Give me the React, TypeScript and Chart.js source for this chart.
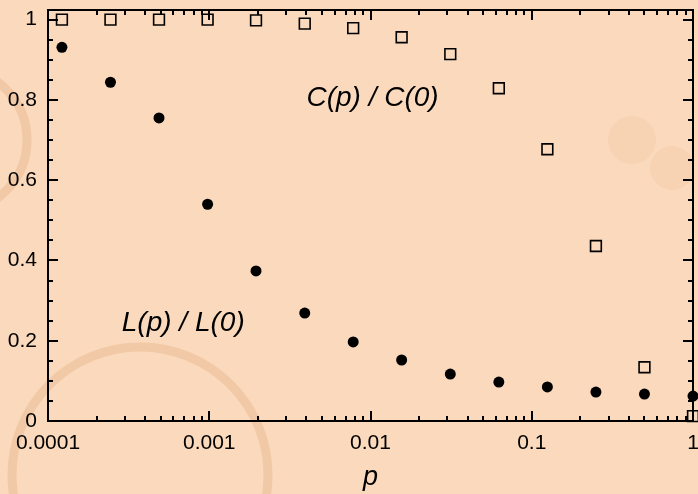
import { useEffect, useRef } from 'react';
import { Chart, registerables } from 'chart.js';

Chart.register(...registerables);

// Rewiring probability p (powers of two from 2^-13 to 1)
const pValues = [0.000122, 0.000244, 0.000488, 0.000977, 0.00195, 0.00391, 0.00781, 0.0156, 0.03125, 0.0625, 0.125, 0.25, 0.5, 1];
// Normalised clustering coefficient C(p)/C(0)
const clusteringRatio = [1.0, 1.0, 1.0, 1.0, 0.998, 0.99, 0.979, 0.956, 0.914, 0.829, 0.677, 0.436, 0.134, 0.012];
// Normalised characteristic path length L(p)/L(0)
const pathLengthRatio = [0.931, 0.844, 0.755, 0.54, 0.374, 0.269, 0.197, 0.152, 0.117, 0.097, 0.085, 0.072, 0.067, 0.062];

const xTickValues = [0.0001, 0.001, 0.01, 0.1, 1];
const xTickLabels = ['0.0001', '0.001', '0.01', '0.1', '1'];
const xMinorMultipliers = [2, 3, 4, 5, 6, 7, 8, 9];
const yTickValues = [0, 0.2, 0.4, 0.6, 0.8, 1];
const yTickLabels = ['0', '0.2', '0.4', '0.6', '0.8', '1'];
const yMinorStep = 0.05;

const annotations = [
  { text: 'C(p) / C(0)', p: 0.0103, v: 0.804 },
  { text: 'L(p) / L(0)', p: 0.00069, v: 0.244 },
];

const BG = 'rgb(250, 217, 188)';
const FONT = '"Liberation Sans", Arial, Helvetica, sans-serif';

const decorPlugin = {
  id: 'decor',
  beforeDraw(chart: any) {
    const { ctx, width, height } = chart;
    ctx.save();
    ctx.fillStyle = BG;
    ctx.fillRect(0, 0, width, height);
    // faint coffee stains
    ctx.strokeStyle = 'rgba(225, 165, 115, 0.3)';
    ctx.lineWidth = 9;
    ctx.beginPath();
    ctx.arc(-45, 140, 72, 0, Math.PI * 2);
    ctx.stroke();
    ctx.beginPath();
    ctx.arc(140, 475, 128, 0, Math.PI * 2);
    ctx.stroke();
    ctx.fillStyle = 'rgba(235, 175, 125, 0.14)';
    ctx.beginPath();
    ctx.arc(632, 140, 24, 0, Math.PI * 2);
    ctx.fill();
    ctx.beginPath();
    ctx.arc(672, 168, 22, 0, Math.PI * 2);
    ctx.fill();
    ctx.restore();
  },
  beforeDatasetsDraw(chart: any) {
    const { ctx, chartArea, scales } = chart;
    const { left, right, top, bottom } = chartArea;
    const x = scales.x;
    const y = scales.y;
    ctx.save();
    ctx.strokeStyle = '#000';
    ctx.lineWidth = 2;
    ctx.strokeRect(left, top, right - left, bottom - top);
    ctx.beginPath();
    // x ticks (bottom and top, inward)
    for (let d = 0; d < xTickValues.length; d++) {
      const base = xTickValues[d];
      const px = Math.round(x.getPixelForValue(base));
      ctx.moveTo(px, bottom); ctx.lineTo(px, bottom - 10);
      ctx.moveTo(px, top); ctx.lineTo(px, top + 10);
      if (d < xTickValues.length - 1) {
        for (const m of xMinorMultipliers) {
          const mx = Math.round(x.getPixelForValue(base * m));
          ctx.moveTo(mx, bottom); ctx.lineTo(mx, bottom - 5);
          ctx.moveTo(mx, top); ctx.lineTo(mx, top + 5);
        }
      }
    }
    // y ticks (left and right, inward)
    for (let i = 0; i <= 20; i++) {
      const v = i * yMinorStep;
      const py = Math.round(y.getPixelForValue(v));
      const len = i % 4 === 0 ? 10 : 5;
      ctx.moveTo(left, py); ctx.lineTo(left + len, py);
      ctx.moveTo(right, py); ctx.lineTo(right - len, py);
    }
    ctx.stroke();
    ctx.restore();
  },
  afterDatasetsDraw(chart: any) {
    const { ctx, scales } = chart;
    ctx.save();
    ctx.fillStyle = '#000';
    ctx.font = `italic 28px ${FONT}`;
    ctx.textAlign = 'center';
    ctx.textBaseline = 'middle';
    for (const a of annotations) {
      ctx.fillText(a.text, scales.x.getPixelForValue(a.p), scales.y.getPixelForValue(a.v));
    }
    ctx.restore();
  },
};

export default function App() {
  const ref = useRef<HTMLCanvasElement | null>(null);
  useEffect(() => {
    document.body.style.margin = '0';
    const canvas = ref.current;
    if (!canvas) return;
    const chart = new Chart(canvas, {
      type: 'scatter',
      data: {
        datasets: [
          {
            label: 'C(p)/C(0)',
            data: pValues.map((p, i) => ({ x: p, y: clusteringRatio[i] })),
            pointStyle: 'rect',
            pointRadius: 7.6,
            pointBorderWidth: 1.6,
            borderColor: '#000',
            backgroundColor: 'rgba(0,0,0,0)',
            clip: false,
          },
          {
            label: 'L(p)/L(0)',
            data: pValues.map((p, i) => ({ x: p, y: pathLengthRatio[i] })),
            pointStyle: 'circle',
            pointRadius: 5.5,
            pointBorderWidth: 0,
            borderColor: '#000',
            backgroundColor: '#000',
            clip: false,
          },
        ],
      },
      options: {
        responsive: false,
        animation: false,
        events: [],
        layout: { padding: { top: 10, right: 5, left: 0, bottom: 0 }, autoPadding: false },
        plugins: { legend: { display: false }, tooltip: { enabled: false } },
        scales: {
          x: {
            type: 'logarithmic',
            min: 0.0001,
            max: 1,
            grid: { display: false, drawTicks: false },
            border: { display: false },
            afterBuildTicks: (s: any) => {
              s.ticks = xTickValues.map((v) => ({ value: v }));
            },
            afterFit: (s: any) => {
              s.height = 73;
              s.paddingLeft = 0;
              s.paddingRight = 0;
            },
            ticks: {
              autoSkip: false,
              maxRotation: 0,
              padding: 10,
              color: '#000',
              font: { family: FONT, size: 21 },
              callback: (v: any) => {
                const i = xTickValues.findIndex((t) => Math.abs(t - v) < t * 1e-6);
                return i >= 0 ? xTickLabels[i] : '';
              },
            },
            title: {
              display: true,
              text: 'p',
              color: '#000',
              padding: { top: 0, bottom: 0 },
              font: { family: FONT, size: 27, style: 'italic' },
            },
          },
          y: {
            min: 0,
            max: 1.024,
            grid: { display: false, drawTicks: false },
            border: { display: false },
            afterBuildTicks: (s: any) => {
              s.ticks = yTickValues.map((v) => ({ value: v }));
            },
            afterFit: (s: any) => {
              s.width = 48;
              s.paddingTop = 0;
              s.paddingBottom = 0;
            },
            ticks: {
              autoSkip: false,
              padding: 11,
              color: '#000',
              font: { family: FONT, size: 21 },
              callback: (v: any) => {
                const i = yTickValues.findIndex((t) => Math.abs(t - v) < 1e-9);
                return i >= 0 ? yTickLabels[i] : '';
              },
            },
          },
        },
      },
      plugins: [decorPlugin],
    });
    return () => chart.destroy();
  }, []);
  return (
    <div style={{ width: 698, height: 494, overflow: 'hidden' }}>
      <canvas ref={ref} width={698} height={494} style={{ display: 'block' }} />
    </div>
  );
}
